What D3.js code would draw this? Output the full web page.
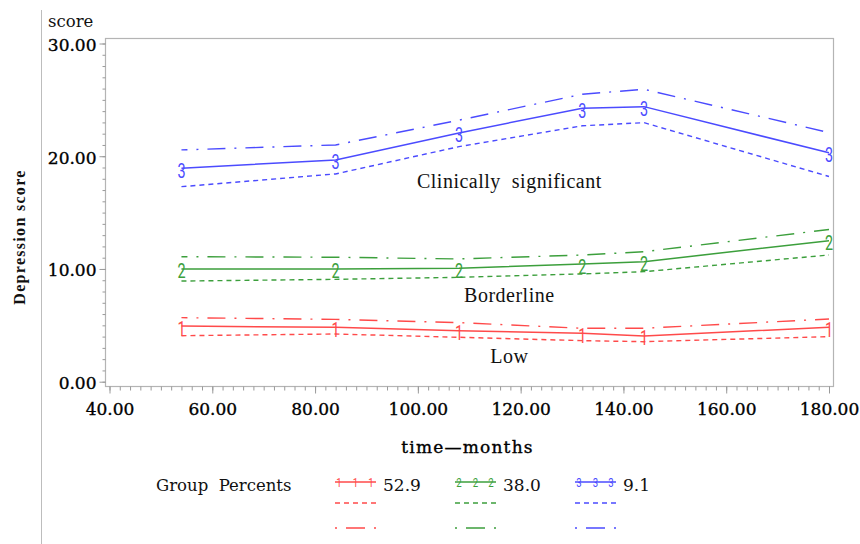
<!DOCTYPE html>
<html>
<head>
<meta charset="utf-8">
<script src="https://cdn.jsdelivr.net/npm/d3@7"></script>
<style>
  html, body { margin: 0; padding: 0; background: #fff; }
  svg { display: block; }
  .tick text { font-family: "DejaVu Serif", serif; font-size: 17px; fill: #000; stroke: #000; stroke-width: 0.35px; }
</style>
</head>
<body>
<svg id="chart" width="860" height="544"></svg>
<script>
// Follow-up times (months)
const months = [54, 84, 108, 132, 144, 180];

// Trajectory group 1 (Low)
const lowMean  = [4.94, 4.82, 4.53, 4.29, 4.06, 4.83];
const lowLower = [4.08, 4.23, 3.94, 3.64, 3.55, 4.00];
const lowUpper = [5.68, 5.53, 5.24, 4.74, 4.74, 5.56];

// Trajectory group 2 (Borderline)
const borderMean  = [10.00, 10.00, 10.06, 10.44, 10.65, 12.50];
const borderLower = [8.93, 9.08, 9.26, 9.56, 9.76, 11.24];
const borderUpper = [11.09, 11.04, 10.89, 11.24, 11.53, 13.50];

// Trajectory group 3 (Clinically significant)
const clinMean  = [18.93, 19.67, 22.07, 24.26, 24.40, 20.30];
const clinLower = [17.30, 18.43, 20.85, 22.70, 22.98, 18.20];
const clinUpper = [20.56, 21.00, 23.20, 25.50, 25.94, 22.10];

const groupIds = ["1", "2", "3"];
const groupPercents = ["52.9", "38.0", "9.1"];
const groupColors = ["#ff4a4a", "#3c9f3c", "#4b4bff"];
const regionLabels = ["Clinically  significant", "Borderline", "Low"];
const regionAnchors = [[117.8, 17.2], [117.8, 7.07], [117.8, 1.66]];

const xTicks = [40, 60, 80, 100, 120, 140, 160, 180];
const yTicks = [0, 10, 20, 30];

const groups = [
  { id: groupIds[0], mean: lowMean, lower: lowLower, upper: lowUpper, color: groupColors[0], pct: groupPercents[0] },
  { id: groupIds[1], mean: borderMean, lower: borderLower, upper: borderUpper, color: groupColors[1], pct: groupPercents[1] },
  { id: groupIds[2], mean: clinMean, lower: clinLower, upper: clinUpper, color: groupColors[2], pct: groupPercents[2] }
];

const svg = d3.select("#chart");
const frame = { left: 105, top: 38, right: 833, bottom: 386 };

const x = d3.scaleLinear().domain([40, 180]).range([109.5, 829]);
const y = d3.scaleLinear().domain([0, 30]).range([381.7, 43.5]);

// page border line at the left
svg.append("line")
  .attr("x1", 41.5).attr("x2", 41.5).attr("y1", 10).attr("y2", 544)
  .attr("stroke", "#bdbdbd").attr("stroke-width", 1);

// plot frame
svg.append("rect")
  .attr("x", frame.left + 0.5).attr("y", frame.top + 0.5)
  .attr("width", frame.right - frame.left).attr("height", frame.bottom - frame.top)
  .attr("fill", "none").attr("stroke", "#b4b4b4").attr("stroke-width", 1.2);

// x axis: major and minor ticks
const xMinor = d3.range(40, 181, 2);
svg.append("g")
  .attr("transform", `translate(0,${frame.bottom + 0.5})`)
  .call(d3.axisBottom(x).tickValues(xMinor).tickSize(4).tickFormat(""))
  .call(g => g.select(".domain").remove())
  .call(g => g.selectAll("line").attr("stroke", "#9a9a9a"));
const xAxis = svg.append("g")
  .attr("transform", `translate(0,${frame.bottom + 0.5})`)
  .call(d3.axisBottom(x).tickValues(xTicks).tickSize(7).tickPadding(9).tickFormat(d3.format(".2f")));
xAxis.select(".domain").remove();
xAxis.selectAll("line").attr("stroke", "#9a9a9a");

// y axis: major and minor ticks
const yMinor = d3.range(0, 31, 1);
svg.append("g")
  .attr("transform", `translate(${frame.left + 0.5},0)`)
  .call(d3.axisLeft(y).tickValues(yMinor).tickSize(3).tickFormat(""))
  .call(g => g.select(".domain").remove())
  .call(g => g.selectAll("line").attr("stroke", "#9a9a9a"));
const yAxis = svg.append("g")
  .attr("transform", `translate(${frame.left + 0.5},0)`)
  .call(d3.axisLeft(y).tickValues(yTicks).tickSize(6).tickPadding(3).tickFormat(d3.format(".2f")));
yAxis.select(".domain").remove();
yAxis.selectAll("line").attr("stroke", "#9a9a9a");
yAxis.selectAll("text").attr("dy", "0.4em");

// axis titles
svg.append("text")
  .attr("x", 48).attr("y", 27)
  .attr("font-family", "DejaVu Serif, serif").attr("font-size", 16.5).attr("fill", "#111")
  .text("score");

svg.append("text")
  .attr("transform", "translate(25,237) rotate(-90)")
  .attr("text-anchor", "middle")
  .attr("font-family", "Liberation Serif, serif").attr("font-weight", "bold")
  .attr("font-size", 16).attr("letter-spacing", 1.3).attr("fill", "#111")
  .text("Depression score");

svg.append("text")
  .attr("x", 467.5).attr("y", 453)
  .attr("text-anchor", "middle")
  .attr("font-family", "DejaVu Serif, serif").attr("font-size", 17)
  .attr("letter-spacing", 1.2).attr("fill", "#000")
  .attr("stroke", "#000").attr("stroke-width", 0.35)
  .text("time\u2014months");

// trajectory lines
const line = d3.line().x(d => x(d[0])).y(d => y(d[1]));
const dashDot = "18,9,2,9";
const dashed = "5,4";

const plot = svg.append("g");
groups.forEach(g => {
  const mk = arr => months.map((m, i) => [m, arr[i]]);
  plot.append("path").datum(mk(g.upper)).attr("d", line)
    .attr("fill", "none").attr("stroke", g.color).attr("stroke-width", 1.4)
    .attr("stroke-dasharray", dashDot).attr("stroke-dashoffset", 12);
  plot.append("path").datum(mk(g.lower)).attr("d", line)
    .attr("fill", "none").attr("stroke", g.color).attr("stroke-width", 1.4)
    .attr("stroke-dasharray", dashed);
  plot.append("path").datum(mk(g.mean)).attr("d", line)
    .attr("fill", "none").attr("stroke", g.color).attr("stroke-width", 1.5);
  // group id markers at each time point
  plot.selectAll(null).data(mk(g.mean)).enter().append("text")
    .attr("transform", d => `translate(${x(d[0])},${y(d[1]) + 9.5}) scale(0.72,1)`)
    .attr("text-anchor", "middle")
    .attr("font-family", "Roboto, sans-serif").attr("font-weight", 400)
    .attr("font-size", 20).attr("fill", g.color)
    .text(g.id);
});

// region labels
svg.selectAll(null).data(regionLabels).enter().append("text")
  .attr("x", (d, i) => x(regionAnchors[i][0]))
  .attr("y", (d, i) => y(regionAnchors[i][1]))
  .attr("text-anchor", "middle")
  .attr("font-family", "Liberation Serif, serif").attr("font-size", 20)
  .attr("letter-spacing", 0.5).attr("fill", "#111")
  .style("white-space", "pre")
  .text(d => d);

// legend
const legend = svg.append("g");
legend.append("text")
  .attr("x", 156).attr("y", 491)
  .attr("font-family", "DejaVu Serif, serif").attr("font-size", 16.5).attr("fill", "#111")
  .style("white-space", "pre")
  .text("Group  Percents");

const legX = [335, 455, 575];
const segW = 41;
groups.forEach((g, i) => {
  const x0 = legX[i];
  legend.append("line").attr("x1", x0).attr("x2", x0 + segW).attr("y1", 482).attr("y2", 482)
    .attr("stroke", g.color).attr("stroke-width", 1.5);
  [4, segW / 2, segW - 5].forEach(o => {
    legend.append("text")
      .attr("transform", `translate(${x0 + o},486.5) scale(0.8,1)`)
      .attr("text-anchor", "middle")
      .attr("font-family", "Roboto, sans-serif").attr("font-size", 12)
      .attr("fill", g.color).text(g.id);
  });
  legend.append("text").attr("x", x0 + segW + 7).attr("y", 491)
    .attr("font-family", "DejaVu Serif, serif").attr("font-size", 17).attr("fill", "#111")
    .text(g.pct);
  legend.append("line").attr("x1", x0).attr("x2", x0 + segW).attr("y1", 503).attr("y2", 503)
    .attr("stroke", g.color).attr("stroke-width", 1.4).attr("stroke-dasharray", dashed);
  legend.append("line").attr("x1", x0).attr("x2", x0 + segW).attr("y1", 528).attr("y2", 528)
    .attr("stroke", g.color).attr("stroke-width", 1.4).attr("stroke-dasharray", "2,9,19,9");
});
</script>
</body>
</html>
